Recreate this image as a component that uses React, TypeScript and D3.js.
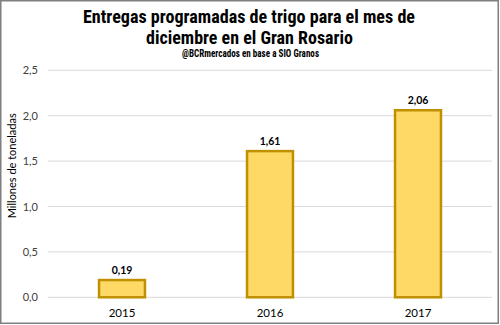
import React from "react";
import * as d3 from "d3";

const categories = ["2015", "2016", "2017"];
const values = [0.19, 1.61, 2.06];
const valueLabels = ["0,19", "1,61", "2,06"];
const yTicks = [0, 0.5, 1.0, 1.5, 2.0, 2.5];
const yTickLabels = ["0,0", "0,5", "1,0", "1,5", "2,0", "2,5"];
const titleLines = ["Entregas programadas de trigo para el mes de", "diciembre en el Gran Rosario"];
const subtitle = "@BCRmercados en base a SIO Granos";
const yAxisTitle = "Millones de toneladas";

export default function App() {
  const W = 500, H = 325;
  const x = d3.scaleBand<string>().domain(categories).range([48, 492]).paddingInner(0.676).paddingOuter(0.338);
  const y = d3.scaleLinear().domain([0, 2.5]).range([297.3, 70.3]);
  const condensed = "'Liberation Sans Narrow', 'Roboto Condensed', 'DejaVu Sans Condensed', Roboto, sans-serif";
  const body = "Lato, 'Open Sans', 'Liberation Sans', sans-serif";
  return (
    <div style={{ position: "absolute", left: 0, top: 0 }}>
      <svg width={W} height={H} style={{ display: "block", background: "#fff" }}>
        <rect x={0.75} y={0.75} width={497.5} height={322.5} fill="#fff" stroke="#7f7f7f" strokeWidth={1.5} />
        <text x={249} y={23} textAnchor="middle" fontFamily={condensed} fontWeight="bold" fontSize={19} fill="#000" textLength={332} lengthAdjust="spacingAndGlyphs">{titleLines[0]}</text>
        <text x={249.5} y={44} textAnchor="middle" fontFamily={condensed} fontWeight="bold" fontSize={19} fill="#000" textLength={207} lengthAdjust="spacingAndGlyphs">{titleLines[1]}</text>
        <text x={250.5} y={57} textAnchor="middle" fontFamily={condensed} fontWeight="bold" fontSize={10} fill="#000" textLength={137} lengthAdjust="spacingAndGlyphs">{subtitle}</text>
        {yTicks.map((t, i) => (
          <g key={i}>
            <line x1={48} x2={492} y1={y(t)} y2={y(t)} stroke="#d9d9d9" strokeWidth={1} />
            <text x={38} y={y(t) + 4} textAnchor="end" fontFamily={body} fontSize={11} fill="#404040">{yTickLabels[i]}</text>
          </g>
        ))}
        <text transform={`translate(16,${(y(0) + y(2.5)) / 2 - 18}) rotate(-90)`} textAnchor="middle" fontFamily={body} fontSize={11} fill="#000">{yAxisTitle}</text>
        {categories.map((c, i) => (
          <g key={c}>
            <rect x={(x(c) as number) + 1} y={y(values[i])} width={x.bandwidth() - 2} height={y(0) - y(values[i])} fill="#ffd966" stroke="#bf9000" strokeWidth={2.5} />
            <text x={(x(c) as number) + x.bandwidth() / 2} y={y(values[i]) - 6} textAnchor="middle" fontFamily={body} fontWeight="bold" fontSize={10.5} fill="#000">{valueLabels[i]}</text>
            <text x={(x(c) as number) + x.bandwidth() / 2} y={317} textAnchor="middle" fontFamily={body} fontSize={11.5} fill="#000">{c}</text>
          </g>
        ))}
      </svg>
    </div>
  );
}
